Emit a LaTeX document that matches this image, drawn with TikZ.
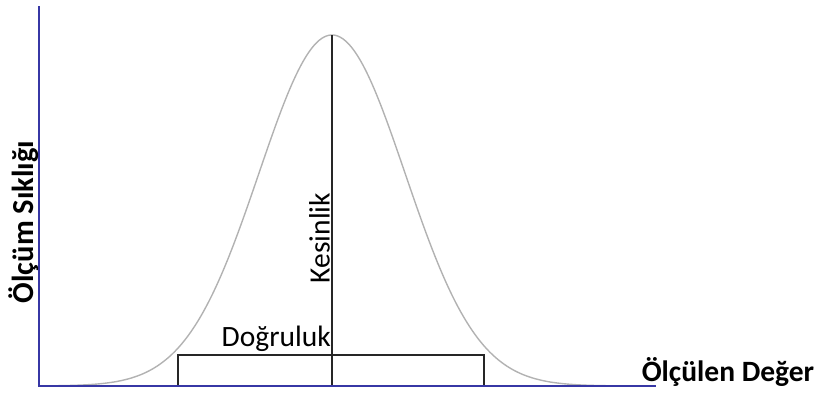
\documentclass[tikz,border=0pt]{standalone}
\usepackage{fontspec}
\setmainfont{Carlito}
\begin{document}
\begin{tikzpicture}[x=1pt,y=-1pt,
  axisline/.style={draw=axisblue,line width=1.6pt},
  curveline/.style={draw=gray!60,line width=1.4pt},
  darkline/.style={draw=black!85,line width=1.2pt},
  boldlabel/.style={font=\fontsize{29.5}{31}\selectfont\bfseries,inner sep=0pt},
  ylabelfont/.style={font=\fontsize{30.5}{32}\selectfont\bfseries,inner sep=0pt},
  plainlabel/.style={font=\fontsize{29.5}{31}\selectfont,inner sep=0pt}]
\definecolor{axisblue}{RGB}{55,55,165}
\useasboundingbox (0,0) rectangle (819,392);
\coordinate (origin) at (39,386);
\coordinate (ytop) at (39,6);
\coordinate (xend) at (656,386);
\coordinate (peak) at (332,35);
\coordinate (peakbase) at (332,386);
\draw[curveline] plot[domain=40:625,samples=200,smooth] (\x,{386-351*exp(-0.5*((\x-332)/73)^2)});
\draw[darkline] (178,386) -- (178,355) -- (484,355) -- (484,386);
\draw[darkline] (peak) -- (peakbase);
\draw[axisline] (ytop) -- (origin) -- (xend);
\node[plainlabel,anchor=south east] (dogruluk) at (331,352) {Doğruluk};
\node[plainlabel,rotate=90] (kesinlik) at (319.5,238) {Kesinlik};
\node[boldlabel] (xlabel) at (728,372) {Ölçülen Değer};
\node[ylabelfont,rotate=90] (ylabel) at (24,222) {Ölçüm Sıklığı};
\end{tikzpicture}
\end{document}
